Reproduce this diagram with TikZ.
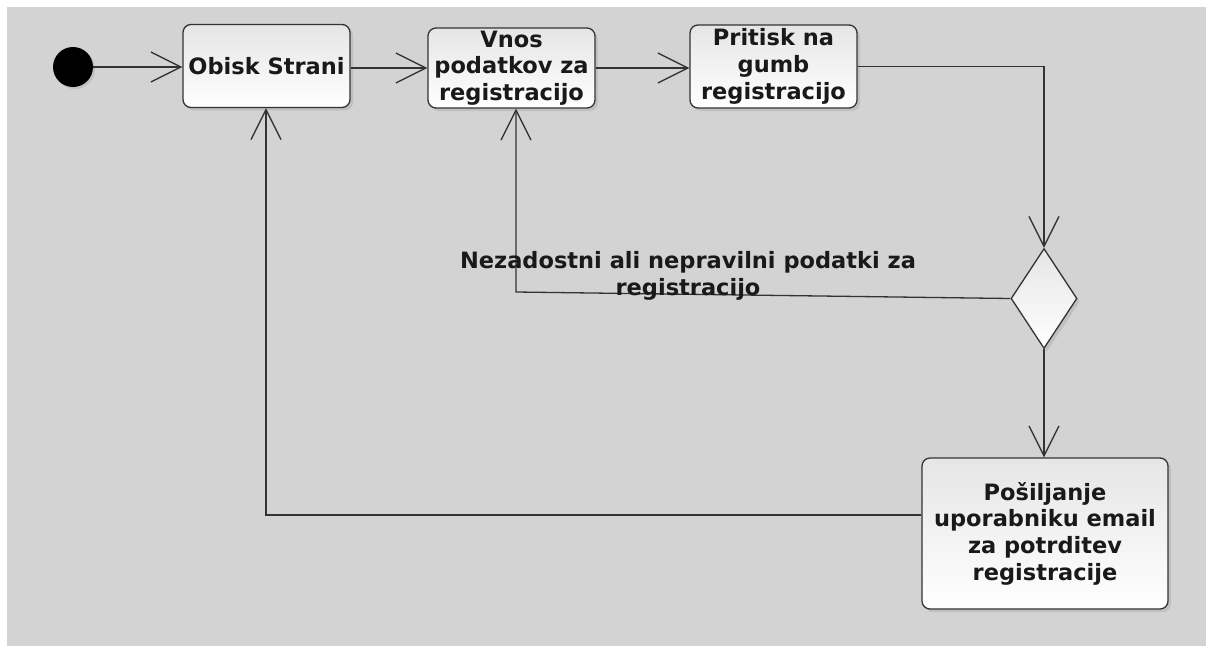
\documentclass[tikz,border=0pt]{standalone}
\usepackage{fontspec}
\setmainfont{DejaVu Sans}
\usetikzlibrary{arrows.meta,shapes.geometric,shadows}
\definecolor{bg}{HTML}{D3D3D3}
\definecolor{ln}{HTML}{333333}
\begin{document}
\begin{tikzpicture}[x=1pt,y=-1pt,
  txt/.style={font=\bfseries\fontsize{22.5}{26.7}\selectfont, text=black!90},
  box/.style={txt, draw=ln, line width=1.3pt, rounded corners=8pt,
    top color=black!10, bottom color=white, align=center, inner sep=0pt,
    drop shadow={opacity=0.22, shadow xshift=3pt, shadow yshift=-3pt}},
  flow/.style={draw=ln, line width=1.3pt,
    -{Straight Barb[length=30pt,width=30pt,line width=1.3pt]}}]
\useasboundingbox (0,0) rectangle (1206,646);
\fill[bg] (7,7) rectangle (1206,646);

\node[circle, fill=black, minimum size=40pt, inner sep=0pt,
  drop shadow={opacity=0.22, shadow xshift=2pt, shadow yshift=-2pt}] (start) at (73,67) {};
\node[box, minimum width=167pt, minimum height=83pt] (obisk) at (266.5,66) {Obisk Strani};
\node[box, minimum width=167pt, minimum height=80pt] (vnos) at (511.5,68) {Vnos\\podatkov za\\registracijo};
\node[box, minimum width=167pt, minimum height=83pt] (prit) at (773.5,66.5) {Pritisk na\\gumb\\registracijo};
\node[diamond, draw=ln, line width=1.3pt, minimum width=66pt, minimum height=100pt, inner sep=0pt,
  top color=black!10, bottom color=white,
  drop shadow={opacity=0.22, shadow xshift=3pt, shadow yshift=-3pt}] (dec) at (1044,298.5) {};
\node[box, minimum width=246pt, minimum height=151pt] (pos) at (1045,533.5) {Pošiljanje\\uporabniku email\\za potrditev\\registracije};

\coordinate (c1) at (516,292);
\coordinate (c2) at (266,515);

\draw[flow] (start.east) -- (start.east -| obisk.west);
\draw[flow] (obisk.east |- vnos.east) -- (vnos.west);
\draw[flow] (vnos.east) -- (vnos.east -| prit.west);
\draw[flow] (prit.east) -| (dec.north);
\draw[flow] (dec.south) -- (dec.south |- pos.north);
\draw[flow] (dec.west) -- (c1) -- (c1 |- vnos.south);
\draw[flow] (pos.west |- c2) -- (c2) -- (c2 |- obisk.south);

\node[txt, align=center, inner sep=0pt] (lbl) at (688,276) {Nezadostni ali nepravilni podatki za\\registracijo};
\end{tikzpicture}
\end{document}
